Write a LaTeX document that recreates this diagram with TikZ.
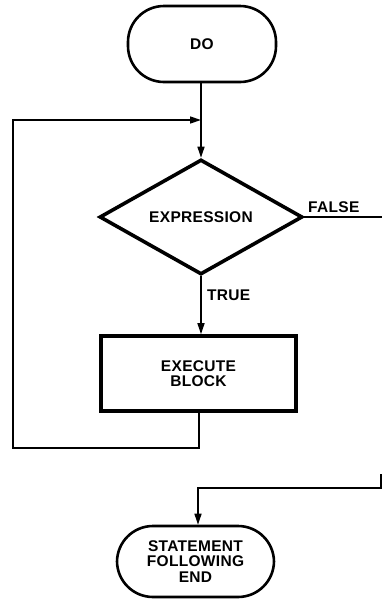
\documentclass[tikz,border=0pt]{standalone}
\usepackage{fontspec}
\setmainfont{Liberation Sans}[LetterSpace=2]
\usetikzlibrary{shapes.geometric,arrows.meta}
\begin{document}
\begin{tikzpicture}[x=1pt,y=-1pt,
  lbl/.style={font=\bfseries\fontsize{15.5}{15.5}\selectfont, align=center},
  term/.style={draw, line width=2.6pt, rounded corners=36pt, inner sep=0pt, lbl},
  dec/.style={draw, diamond, line width=3.6pt, inner sep=0pt, lbl},
  proc/.style={draw, line width=3.6pt, inner sep=0pt, lbl},
  conn/.style={line width=1.4pt},
  arr/.style={conn, -{Triangle[length=11pt,width=7pt]}}]
\useasboundingbox (0,0) rectangle (382,606);
\node[term, minimum width=148pt, minimum height=76pt] (do) at (202,44) {DO};
\node[dec, minimum width=203pt, minimum height=115pt] (expr) at (201,217) {EXPRESSION};
\node[proc, minimum width=195pt, minimum height=75pt] (blk) at (198.5,373.5) {EXECUTE\\BLOCK};
\node[term, minimum width=157pt, minimum height=71pt] (endn) at (195.5,561.5) {STATEMENT\\FOLLOWING\\END};
\node[lbl, anchor=base west, inner sep=0pt] (false) at (308,212) {FALSE};
\node[lbl, anchor=base west, inner sep=0pt] (true) at (207,300) {TRUE};
\coordinate (loopA) at (199,448);
\coordinate (loopB) at (13,448);
\coordinate (loopC) at (13,120);
\coordinate (loopD) at (201,120);
\coordinate (fout) at (382,217);
\coordinate (fin) at (381,474);
\coordinate (fturn) at (381,488);
\draw[arr] (do.south -| expr.north) -- (expr.north);
\draw[arr] (blk.south -| loopA) -- (loopA) -- (loopB) -- (loopC) -- (loopD);
\draw[conn] (expr.east) -- (expr.east -| fout);
\draw[arr] (expr.south) -- (expr.south |- blk.north);
\draw[arr] (fin) -- (fturn) -- (fturn -| 198,0) -- (198,0 |- endn.north);
\end{tikzpicture}
\end{document}
